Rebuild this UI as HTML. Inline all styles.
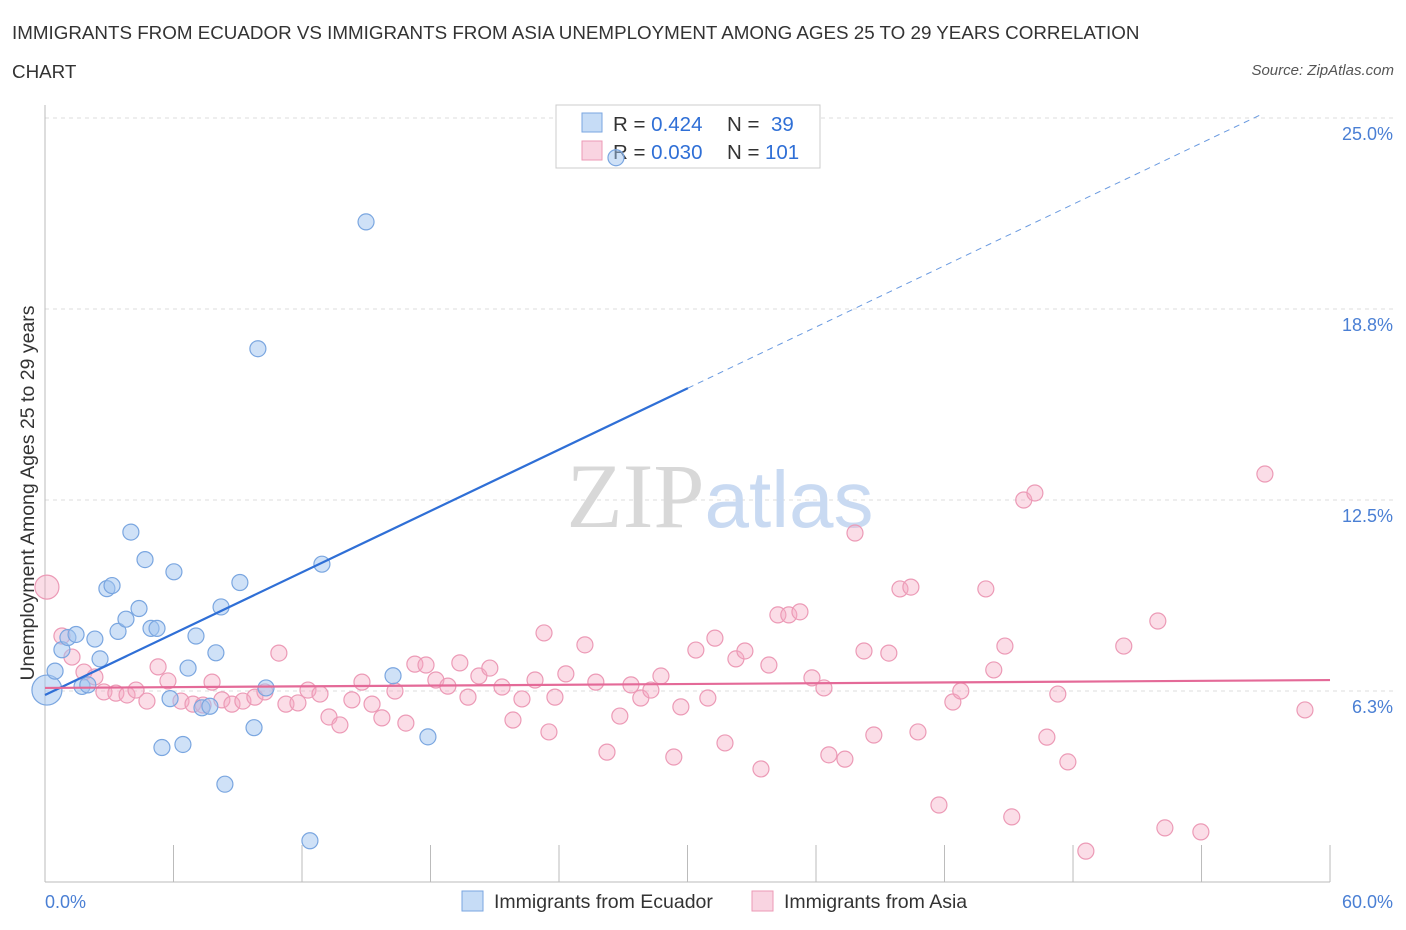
<!DOCTYPE html>
<html><head><meta charset="utf-8">
<style>
body{margin:0;background:#fff;font-family:"Liberation Sans",sans-serif;}
#wrap{position:relative;width:1406px;height:930px;overflow:hidden;}
.t{position:absolute;color:#333;font-size:18.8px;}
</style></head><body>
<div id="wrap">
<div class="t" style="left:12px;top:22px;">IMMIGRANTS FROM ECUADOR VS IMMIGRANTS FROM ASIA UNEMPLOYMENT AMONG AGES 25 TO 29 YEARS CORRELATION</div>
<div class="t" style="left:12px;top:61px;">CHART</div>
<div class="t" style="right:12px;top:62px;font-size:15px;font-style:italic;color:#555;">Source: ZipAtlas.com</div>
<svg id="svg" width="1406" height="930" style="position:absolute;left:0;top:0;"></svg>
</div>
<script>
const ecuadorX=[0.09,0.47,0.79,1.07,1.45,1.73,2.0,2.33,2.57,2.89,3.13,3.41,3.78,4.01,4.39,4.67,4.95,5.23,5.46,5.84,6.02,6.44,6.68,7.05,7.33,7.7,7.98,8.22,8.4,9.1,9.76,9.94,10.32,12.37,12.93,14.99,16.25,17.88,26.66];
const ecuadorY=[6.28,6.9,7.6,8.0,8.1,6.4,6.45,7.95,7.3,9.6,9.7,8.2,8.6,11.45,8.95,10.55,8.3,8.3,4.4,6.0,10.15,4.5,7.0,8.05,5.7,5.75,7.5,9.0,3.2,9.8,5.05,17.45,6.35,1.35,10.4,21.6,6.75,4.75,23.7];
const asiaX=[0.09,0.79,1.26,1.82,2.33,2.75,3.31,3.83,4.25,4.76,5.28,5.74,6.35,6.91,7.38,7.8,8.26,8.73,9.24,9.8,10.27,10.92,11.25,11.81,12.28,12.84,13.26,13.77,14.33,14.8,15.27,15.73,16.34,16.85,17.27,17.79,18.25,18.81,19.37,19.75,20.26,20.77,21.34,21.85,22.27,22.88,23.3,23.53,23.81,24.32,25.21,25.72,26.24,26.84,27.36,27.82,28.29,28.76,29.36,29.69,30.39,30.95,31.28,31.75,32.26,32.68,33.43,33.8,34.22,34.73,35.25,35.81,36.37,36.6,37.35,37.82,38.24,38.7,39.4,39.92,40.43,40.76,41.74,42.39,42.76,43.93,44.3,44.82,45.14,45.7,46.22,46.78,47.29,47.76,48.6,50.37,51.96,52.29,53.97,56.96,58.83];
const asiaY=[9.65,8.05,7.36,6.87,6.71,6.22,6.18,6.12,6.28,5.92,7.04,6.58,5.92,5.82,5.79,6.54,5.96,5.82,5.92,6.05,6.22,7.49,5.82,5.86,6.28,6.15,5.4,5.14,5.96,6.54,5.82,5.37,6.25,5.2,7.13,7.1,6.61,6.41,7.17,6.05,6.74,7.0,6.38,5.3,5.99,6.61,8.15,4.91,6.05,6.81,7.76,6.54,4.25,5.43,6.45,6.02,6.28,6.74,4.09,5.73,7.59,6.02,7.98,4.55,7.3,7.56,3.7,7.1,8.74,8.74,8.84,6.68,6.35,4.16,4.02,11.42,7.56,4.81,7.49,9.59,9.65,4.91,2.52,5.89,6.25,9.59,6.94,7.72,2.13,12.5,12.73,4.74,6.15,3.93,1.01,7.72,8.54,1.77,1.64,13.35,5.63];
const yTicks=[6.25,12.5,18.75,25.0];
const yTickLabels=["6.3%","12.5%","18.8%","25.0%"];
const xTicks=[0,6,12,18,24,30,36,42,48,54,60];
const ecuadorTrend=[6.12,0.3345];
const asiaTrend=[6.35,0.0043];
const ecuadorSolidEnd=30.02, ecuadorDashEnd=56.72;

const NS="http://www.w3.org/2000/svg";
const svg=document.getElementById('svg');
const X=v=>45+v*21.417, Y=v=>882-v*30.56;
function el(tag,attrs,parent){const e=document.createElementNS(NS,tag);for(const k in attrs)e.setAttribute(k,attrs[k]);(parent||svg).appendChild(e);return e;}

yTicks.forEach((t,i)=>{
 const g=el('line',{x1:45,x2:1395,y1:Y(t),y2:Y(t),stroke:'#ddd','stroke-dasharray':'4,4'});
 
 
 const tx=el('text',{x:1393,y:Y(t)+22,'text-anchor':'end',fill:'#4a7fd4','font-size':18,'font-family':'Liberation Sans, sans-serif'});
 tx.textContent=yTickLabels[i];
 
 
});
const ax=el('line',{x1:45,x2:1330,y1:882,y2:882,stroke:'#bbb'});


const ay=el('line',{x1:45,x2:45,y1:105,y2:882,stroke:'#bbb'});


xTicks.forEach(t=>{
 const l=el('line',{x1:X(t),x2:X(t),y1:845,y2:882,stroke:'#bbb'});
 
 
});
[[45,'0.0%','start'],[1393,'60.0%','end']].forEach(a=>{
 const tx=el('text',{x:a[0],y:908,'text-anchor':a[2],fill:'#4a7fd4','font-size':18,'font-family':'Liberation Sans, sans-serif'});
 tx.textContent=a[1];
 
 
});
const yt=el('text',{x:0,y:0,transform:'translate(34,493) rotate(-90)','text-anchor':'middle',fill:'#333','font-size':19.5,'font-family':'Liberation Sans, sans-serif'});
yt.textContent='Unemployment Among Ages 25 to 29 years';



const wm=el('text',{x:720,y:527,'text-anchor':'middle','font-size':92,'font-family':'Liberation Serif, serif',fill:'#d8d8d8'});
wm.innerHTML='ZIP<tspan font-family="Liberation Sans, sans-serif" fill="#c9daf2" font-size="80">atlas</tspan>';



// top legend (drawn beneath points)
const lg=el('g',{});


el('rect',{x:556,y:105,width:264,height:63,fill:'#fff',stroke:'#ccc'},lg);
el('rect',{x:582,y:113,width:20,height:19,fill:'rgba(160,196,240,0.6)',stroke:'#7aa6e0'},lg);
el('rect',{x:582,y:141,width:20,height:19,fill:'rgba(244,170,196,0.5)',stroke:'#ec9ab6'},lg);
[[131,'0.424','39'],[159,'0.030','101']].forEach(r=>{
 const t=el('text',{x:613,y:r[0],'font-size':20.5,'font-family':'Liberation Sans, sans-serif',fill:'#333'},lg);
 t.innerHTML='R = <tspan fill="#2f6fd6">'+r[1]+'</tspan>';
 const n=el('text',{x:727,y:r[0],'font-size':20.5,'font-family':'Liberation Sans, sans-serif',fill:'#333'},lg);
 n.innerHTML='N = <tspan fill="#2f6fd6" x="'+(r[2].length==2?771:765)+'">'+r[2]+'</tspan>';
});

asiaX.forEach((x,i)=>{
 const c=el('circle',{cx:X(x),cy:Y(asiaY[i]),r:i==0?12:8,fill:'rgba(244,170,196,0.4)',stroke:'#ec9ab6','stroke-width':1.2});
 
 
});
ecuadorX.forEach((x,i)=>{
 const c=el('circle',{cx:X(x),cy:Y(ecuadorY[i]),r:i==0?15:8,fill:'rgba(160,196,240,0.5)',stroke:'#7aa6e0','stroke-width':1.2});
 
 
});
const tb=el('line',{x1:X(0),y1:Y(ecuadorTrend[0]),x2:X(ecuadorSolidEnd),y2:Y(ecuadorTrend[0]+ecuadorTrend[1]*ecuadorSolidEnd),stroke:'#2f6fd6','stroke-width':2.2});


const td=el('line',{x1:X(ecuadorSolidEnd),y1:Y(ecuadorTrend[0]+ecuadorTrend[1]*ecuadorSolidEnd),x2:X(ecuadorDashEnd),y2:Y(ecuadorTrend[0]+ecuadorTrend[1]*ecuadorDashEnd),stroke:'#6a9ae0','stroke-width':1,'stroke-dasharray':'6,5'});


const tp=el('line',{x1:X(0),y1:Y(asiaTrend[0]),x2:X(60),y2:Y(asiaTrend[0]+asiaTrend[1]*60),stroke:'#e46a98','stroke-width':2.2});



[[462,'Immigrants from Ecuador','rgba(160,196,240,0.6)','#7aa6e0','legend-ecuador'],[752,'Immigrants from Asia','rgba(244,170,196,0.5)','#ec9ab6','legend-asia']].forEach(a=>{
 const g=el('g',{});
 
 
 el('rect',{x:a[0],y:891,width:21,height:20,fill:a[2],stroke:a[3]},g);
 const t=el('text',{x:a[0]+32,y:908,'font-size':19.5,'font-family':'Liberation Sans, sans-serif',fill:'#333'},g);
 t.textContent=a[1];
});
</script>
</body></html>
